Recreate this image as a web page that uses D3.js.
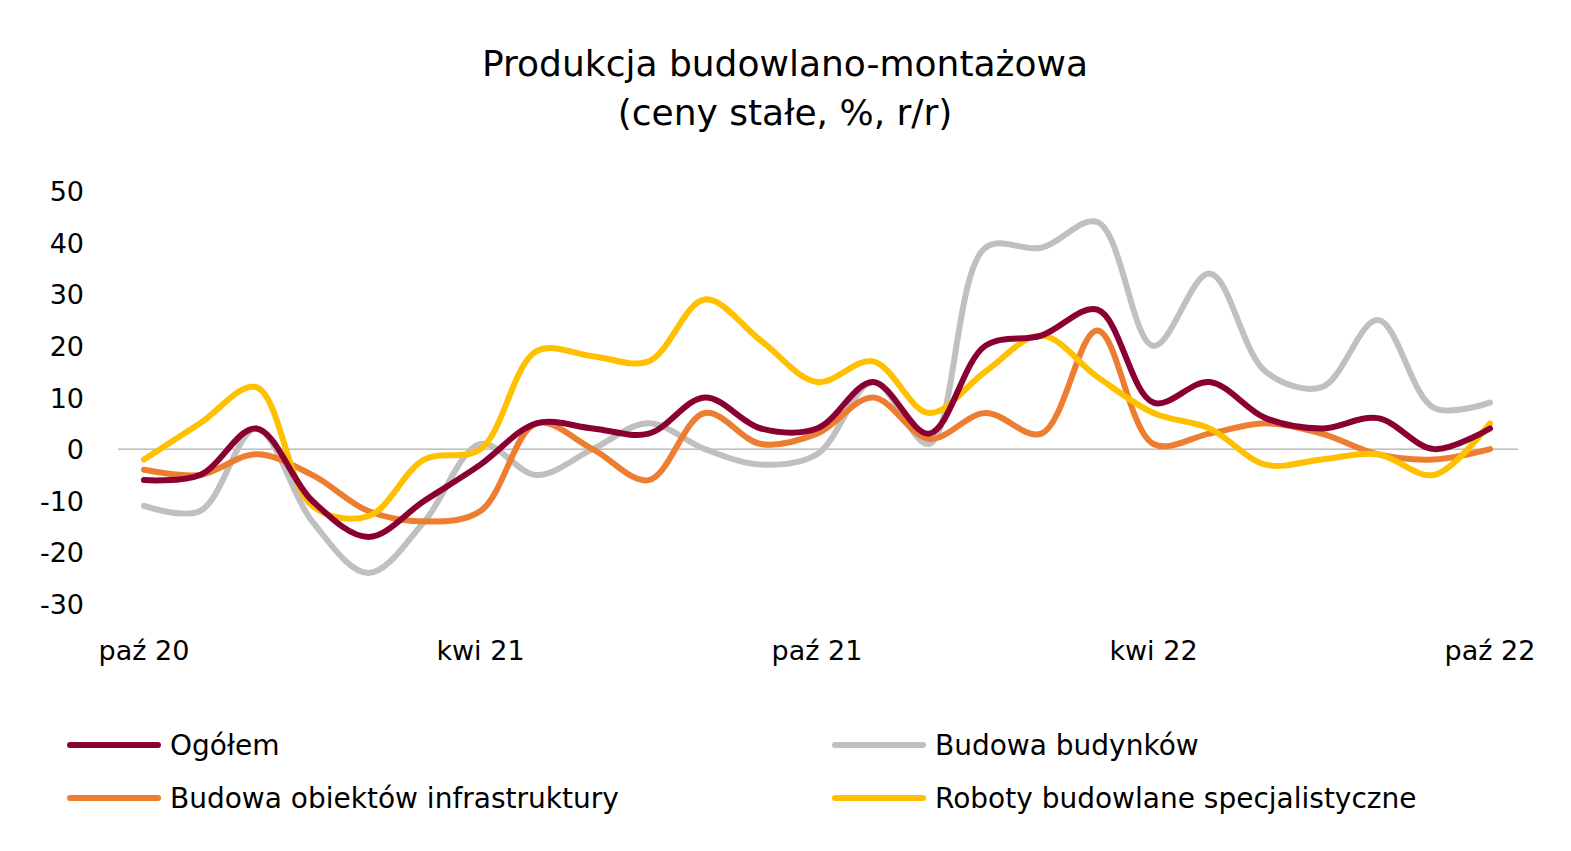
<!DOCTYPE html><html><head><meta charset="utf-8"><script src="https://cdn.jsdelivr.net/npm/d3@7"></script>
<style>body{margin:0;background:#fff}text{font-family:"DejaVu Sans",Verdana,sans-serif;fill:#000}</style></head><body>
<svg id="c" width="1571" height="851"></svg>
<script>
const months=d3.range(25);
const tickLabels=[[0,"paź 20"],[6,"kwi 21"],[12,"paź 21"],[18,"kwi 22"],[24,"paź 22"]];
const yTicks=[-30,-20,-10,0,10,20,30,40,50];
const ogolem=[-6,-5,4,-10,-17,-10,-3,5,4,3,10,4,4,13,3,20,22,27,9,13,6,4,6,0,4];
const budynki=[-11,-12,4,-14,-24,-14,1,-5,0,5,0,-3,-1,13,1,39,39,44,20,34,15,12,25,8,9];
const infra=[-4,-5,-1,-5,-12,-14,-12,5,0,-6,7,1,3,10,2,7,3,23,1,3,5,3,-1,-2,0];
const roboty=[-2,5,12,-11,-13,-2,0,19,18,17,29,21,13,17,7,15,22,14,7,4,-3,-2,-1,-5,5];
const series=[
 {name:"Budowa budynków",v:budynki,c:"#c0c0c0"},
 {name:"Budowa obiektów infrastruktury",v:infra,c:"#ed7d31"},
 {name:"Roboty budowlane specjalistyczne",v:roboty,c:"#ffc000"},
 {name:"Ogółem",v:ogolem,c:"#8b0033"}];
const svg=d3.select("#c");
const x=d3.scaleLinear().domain([0,24]).range([144,1490]);
const y=d3.scaleLinear().domain([-30,50]).range([604,191]);
svg.append("text").attr("x",785).attr("y",76).attr("text-anchor","middle").attr("font-size",36).text("Produkcja budowlano-montażowa");
svg.append("text").attr("x",785).attr("y",125).attr("text-anchor","middle").attr("font-size",36).text("(ceny stałe, %, r/r)");
svg.append("line").attr("x1",118).attr("x2",1518).attr("y1",y(0)).attr("y2",y(0)).attr("stroke","#999").attr("stroke-width",1);
yTicks.forEach(t=>svg.append("text").attr("x",84).attr("y",y(t)+10).attr("text-anchor","end").attr("font-size",27).text(t));
tickLabels.forEach(([i,l])=>svg.append("text").attr("x",x(i)).attr("y",660).attr("text-anchor","middle").attr("font-size",27).text(l));
const line=d3.line().x((d,i)=>x(i)).y(d=>y(d)).curve(d3.curveCatmullRom.alpha(0.5));
series.forEach(s=>svg.append("path").attr("d",line(s.v)).attr("fill","none").attr("stroke",s.c).attr("stroke-width",6).attr("stroke-linecap","round"));
const leg=[[ogolem,"#8b0033","Ogółem",70,745],[budynki,"#c0c0c0","Budowa budynków",835,745],[infra,"#ed7d31","Budowa obiektów infrastruktury",70,798],[roboty,"#ffc000","Roboty budowlane specjalistyczne",835,798]];
leg.forEach(([v,c,n,lx,ly])=>{svg.append("line").attr("x1",lx).attr("x2",lx+88).attr("y1",ly).attr("y2",ly).attr("stroke",c).attr("stroke-width",6).attr("stroke-linecap","round");
svg.append("text").attr("x",lx+100).attr("y",ly+10).attr("font-size",28).text(n);});
</script></body></html>
